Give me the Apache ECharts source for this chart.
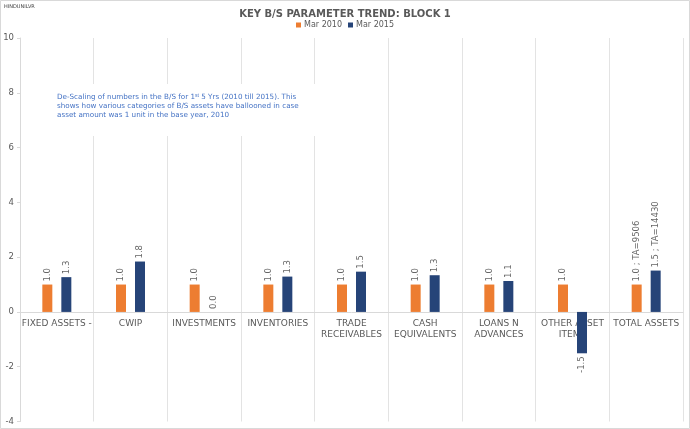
<!DOCTYPE html>
<html><head><meta charset="utf-8">
<script src="https://cdn.jsdelivr.net/npm/echarts@6/dist/echarts.min.js"></script>
<style>html,body{margin:0;padding:0;background:#fff}#c{width:690px;height:429px}</style>
</head><body><div id="c"></div>
<script>
const categories = ['FIXED ASSETS -', 'CWIP', 'INVESTMENTS', 'INVENTORIES', 'TRADE\nRECEIVABLES', 'CASH\nEQUIVALENTS', 'LOANS N\nADVANCES', 'OTHER ASSET\nITEMS', 'TOTAL ASSETS'];
const seriesNames = ['Mar 2010', 'Mar 2015'];
const mar2010 = [1.0, 1.0, 1.0, 1.0, 1.0, 1.0, 1.0, 1.0, 1.0];
const mar2015 = [1.27, 1.84, 0.0, 1.29, 1.47, 1.34, 1.13, -1.51, 1.51];
const totalAssets = [9506, 14430];
const yTicks = {min: -4, max: 10, interval: 2};
const titleText = 'KEY B/S PARAMETER TREND: BLOCK 1';
const tickerText = 'HINDUNILVR';

const FONT = 'DejaVu Sans';
const GREY = '#595959';
const W = 690, H = 429;
const gridTop = 38, gridBottom = 7.5;
const plotH = H - gridTop - gridBottom;
const zeroOffset = -((0 - yTicks.min) / (yTicks.max - yTicks.min)) * plotH;

const chart = echarts.init(document.getElementById('c'));

function makeSeries(name, data, color, taIdx) {
  return {
    name: name, type: 'bar', barWidth: 10, barGap: '90%',
    itemStyle: {color: color},
    data: data.map(function (v, i) {
      const neg = v < 0;
      return {
        value: v,
        label: {
          show: true,
          position: neg ? 'bottom' : 'top',
          distance: 3,
          rotate: 90,
          align: neg ? 'right' : 'left',
          verticalAlign: 'middle',
          color: '#666', fontFamily: FONT, fontSize: 8.5,
          formatter: function (p) {
            let s = Number(p.value).toFixed(1);
            if (i === categories.length - 1) s += ' ; TA=' + totalAssets[taIdx];
            return s;
          }
        }
      };
    })
  };
}

chart.setOption({
  animation: false,
  textStyle: {fontFamily: FONT},
  title: {
    text: titleText, left: 'center', top: 4,
    textStyle: {fontFamily: FONT, fontSize: 10, fontWeight: 'bold', color: GREY}
  },
  legend: {
    data: seriesNames, top: 16, left: 'center',
    itemWidth: 5, itemHeight: 5, itemGap: 6, icon: 'rect',
    textStyle: {fontFamily: FONT, fontSize: 8, color: GREY, padding: [0, 0, 0, -2]}
  },
  grid: {left: 20, right: 7, top: gridTop, bottom: gridBottom, containLabel: false, outerBoundsMode: 'none'},
  xAxis: {
    type: 'category', data: categories, position: 'bottom', offset: zeroOffset,
    axisLine: {onZero: false, lineStyle: {color: '#D9D9D9'}},
    axisTick: {show: false},
    splitLine: {show: true, lineStyle: {color: '#E3E3E3'}},
    axisLabel: {color: GREY, fontFamily: FONT, fontSize: 9, margin: 6, lineHeight: 11, interval: 0}
  },
  yAxis: {
    type: 'value', min: yTicks.min, max: yTicks.max, interval: yTicks.interval,
    axisLine: {show: true, lineStyle: {color: '#D9D9D9'}},
    axisTick: {show: true, length: 3, lineStyle: {color: '#D9D9D9'}},
    splitLine: {show: false},
    axisLabel: {color: GREY, fontFamily: FONT, fontSize: 8.5, margin: 6}
  },
  graphic: [
    {type: 'rect', z: 1, silent: true, shape: {x: 0.5, y: 0.5, width: 689, height: 428},
     style: {fill: 'none', stroke: '#D9D9D9', lineWidth: 1}},
    {type: 'text', left: 4, top: 4, z: 10,
     style: {text: tickerText, font: '5px ' + FONT, fill: '#404040'}},
    {type: 'rect', z: 10, shape: {x: 50, y: 84, width: 274, height: 52}, style: {fill: '#fff'}},
    {type: 'text', z: 11, left: 57, top: 93,
     style: {
       text: 'De-Scaling of numbers in the B/S for 1{sup|st} 5 Yrs (2010 till 2015). This\nshows how various categories of B/S assets have ballooned in case\nasset amount was 1 unit in the base year, 2010',
       font: '7.2px ' + FONT, fill: '#4472C4', lineHeight: 9,
       rich: {sup: {fontSize: 5, fill: '#4472C4', verticalAlign: 'top', lineHeight: 9}}
     }}
  ],
  series: [
    makeSeries(seriesNames[0], mar2010, '#ED7D31', 0),
    makeSeries(seriesNames[1], mar2015, '#264478', 1)
  ]
});
</script></body></html>
